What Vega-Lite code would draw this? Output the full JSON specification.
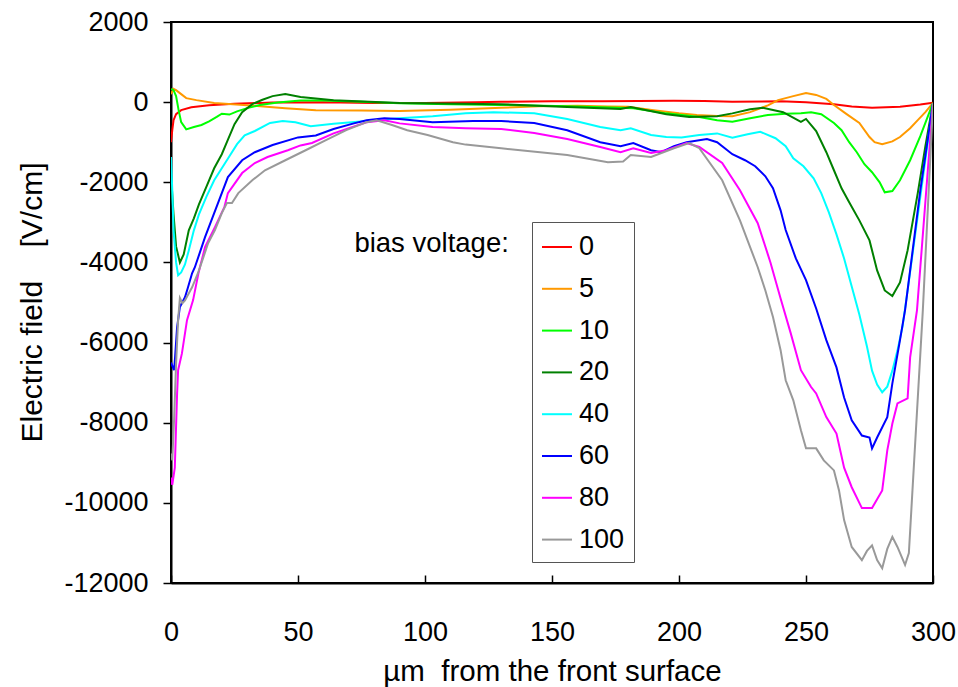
{
  "$schema": "https://vega.github.io/schema/vega-lite/v6.json",
  "width": 762,
  "height": 561,
  "autosize": {"type": "none"},
  "padding": {"left": 171, "top": 22, "right": 25, "bottom": 104},
  "background": "white",
  "config": {
    "font": "Liberation Sans",
    "view": {"stroke": "black", "strokeWidth": 2},
    "axis": {"grid": false, "domainColor": "black", "domainWidth": 2, "tickColor": "black", "tickWidth": 1.5, "labelColor": "black", "titleColor": "black", "labelFont": "Liberation Sans", "titleFont": "Liberation Sans", "titleFontWeight": "normal"}
  },
  "encoding": {
    "x": {"field": "x", "type": "quantitative", "scale": {"domain": [0, 300], "nice": false, "zero": false},
      "axis": {"values": [0, 50, 100, 150, 200, 250, 300], "tickSize": -8, "labelPadding": 44, "labelFontSize": 27, "labelFlush": false,
        "title": "µm\u00a0 from the front surface", "titleFontSize": 29.5, "titleX": 381, "titleY": 97, "titleBaseline": "alphabetic", "titleAlign": "center"}},
    "y": {"field": "E", "type": "quantitative", "scale": {"domain": [-12000, 2000], "nice": false, "zero": false},
      "axis": {"values": [-12000, -10000, -8000, -6000, -4000, -2000, 0, 2000], "tickSize": 8, "labelPadding": 15, "labelFontSize": 27, "labelFlush": false, "labelExpr": "'' + datum.value",
        "title": "Electric field\u00a0\u00a0\u00a0\u00a0[V/cm]", "titleFontSize": 30, "titleX": -139, "titleY": 280, "titleAngle": 270, "titleAlign": "center", "titleBaseline": "middle"}}
  },
  "layer": [
    {
      "data": {"values": [
        {"V":"0","x":0,"E":-1000},{"V":"0","x":0.5,"E":-700},{"V":"0","x":1,"E":-450},{"V":"0","x":2,"E":-300},{"V":"0","x":4,"E":-200},{"V":"0","x":8,"E":-130},{"V":"0","x":15,"E":-80},{"V":"0","x":25,"E":-40},{"V":"0","x":40,"E":-10},{"V":"0","x":60,"E":0},{"V":"0","x":80,"E":-20},{"V":"0","x":100,"E":-20},{"V":"0","x":120,"E":-5},{"V":"0","x":130,"E":10},{"V":"0","x":150,"E":20},{"V":"0","x":170,"E":25},{"V":"0","x":198,"E":35},{"V":"0","x":210,"E":30},{"V":"0","x":221,"E":10},{"V":"0","x":240,"E":20},{"V":"0","x":250,"E":0},{"V":"0","x":261,"E":-50},{"V":"0","x":268,"E":-110},{"V":"0","x":276,"E":-140},{"V":"0","x":287,"E":-115},{"V":"0","x":295,"E":-60},{"V":"0","x":300,"E":-15},

        {"V":"5","x":0,"E":200},{"V":"5","x":1,"E":330},{"V":"5","x":2,"E":300},{"V":"5","x":4,"E":200},{"V":"5","x":6,"E":100},{"V":"5","x":10,"E":50},{"V":"5","x":17,"E":-20},{"V":"5","x":30,"E":-80},{"V":"5","x":45,"E":-150},{"V":"5","x":57,"E":-200},{"V":"5","x":75,"E":-210},{"V":"5","x":90,"E":-220},{"V":"5","x":110,"E":-190},{"V":"5","x":130,"E":-140},{"V":"5","x":145,"E":-100},{"V":"5","x":160,"E":-90},{"V":"5","x":172,"E":-110},{"V":"5","x":180,"E":-115},{"V":"5","x":190,"E":-200},{"V":"5","x":200,"E":-280},{"V":"5","x":207,"E":-320},{"V":"5","x":215,"E":-345},{"V":"5","x":221,"E":-350},{"V":"5","x":228,"E":-250},{"V":"5","x":235,"E":-80},{"V":"5","x":239,"E":50},{"V":"5","x":245,"E":150},{"V":"5","x":250,"E":230},{"V":"5","x":254,"E":180},{"V":"5","x":258,"E":80},{"V":"5","x":261,"E":-70},{"V":"5","x":266,"E":-300},{"V":"5","x":271,"E":-520},{"V":"5","x":275,"E":-870},{"V":"5","x":277,"E":-1000},{"V":"5","x":280,"E":-1050},{"V":"5","x":284,"E":-980},{"V":"5","x":287,"E":-870},{"V":"5","x":291,"E":-650},{"V":"5","x":294,"E":-450},{"V":"5","x":297,"E":-250},{"V":"5","x":300,"E":-20},

        {"V":"10","x":0,"E":330},{"V":"10","x":1,"E":300},{"V":"10","x":2,"E":150},{"V":"10","x":3,"E":-200},{"V":"10","x":4,"E":-500},{"V":"10","x":6,"E":-680},{"V":"10","x":9,"E":-620},{"V":"10","x":12,"E":-570},{"V":"10","x":15,"E":-480},{"V":"10","x":18,"E":-370},{"V":"10","x":20,"E":-290},{"V":"10","x":23,"E":-310},{"V":"10","x":26,"E":-230},{"V":"10","x":30,"E":-150},{"V":"10","x":35,"E":-70},{"V":"10","x":42,"E":-10},{"V":"10","x":51,"E":40},{"V":"10","x":60,"E":40},{"V":"10","x":75,"E":10},{"V":"10","x":90,"E":-25},{"V":"10","x":110,"E":-50},{"V":"10","x":130,"E":-70},{"V":"10","x":156,"E":-100},{"V":"10","x":170,"E":-130},{"V":"10","x":182,"E":-150},{"V":"10","x":195,"E":-280},{"V":"10","x":208,"E":-370},{"V":"10","x":215,"E":-450},{"V":"10","x":221,"E":-490},{"V":"10","x":228,"E":-400},{"V":"10","x":235,"E":-320},{"V":"10","x":242,"E":-290},{"V":"10","x":248,"E":-280},{"V":"10","x":252,"E":-250},{"V":"10","x":256,"E":-300},{"V":"10","x":261,"E":-520},{"V":"10","x":264,"E":-700},{"V":"10","x":267,"E":-1000},{"V":"10","x":270,"E":-1250},{"V":"10","x":273,"E":-1550},{"V":"10","x":276,"E":-1750},{"V":"10","x":279,"E":-2000},{"V":"10","x":281,"E":-2250},{"V":"10","x":284,"E":-2220},{"V":"10","x":287,"E":-1950},{"V":"10","x":291,"E":-1450},{"V":"10","x":295,"E":-850},{"V":"10","x":300,"E":-20},

        {"V":"20","x":0,"E":-1800},{"V":"20","x":1,"E":-2800},{"V":"20","x":2,"E":-3600},{"V":"20","x":3.5,"E":-4000},{"V":"20","x":5,"E":-3800},{"V":"20","x":7,"E":-3200},{"V":"20","x":9,"E":-2900},{"V":"20","x":11,"E":-2550},{"V":"20","x":14,"E":-2100},{"V":"20","x":17,"E":-1650},{"V":"20","x":20,"E":-1300},{"V":"20","x":22,"E":-1000},{"V":"20","x":25,"E":-550},{"V":"20","x":28,"E":-250},{"V":"20","x":32,"E":-50},{"V":"20","x":36,"E":60},{"V":"20","x":40,"E":150},{"V":"20","x":45,"E":200},{"V":"20","x":51,"E":130},{"V":"20","x":64,"E":50},{"V":"20","x":90,"E":-20},{"V":"20","x":130,"E":-50},{"V":"20","x":156,"E":-120},{"V":"20","x":177,"E":-170},{"V":"20","x":181,"E":-120},{"V":"20","x":195,"E":-300},{"V":"20","x":204,"E":-370},{"V":"20","x":215,"E":-350},{"V":"20","x":221,"E":-280},{"V":"20","x":228,"E":-180},{"V":"20","x":233,"E":-140},{"V":"20","x":241,"E":-250},{"V":"20","x":248,"E":-490},{"V":"20","x":250,"E":-420},{"V":"20","x":254,"E":-720},{"V":"20","x":258,"E":-1250},{"V":"20","x":261,"E":-1700},{"V":"20","x":264,"E":-2150},{"V":"20","x":267,"E":-2500},{"V":"20","x":271,"E":-2950},{"V":"20","x":275,"E":-3450},{"V":"20","x":278,"E":-4200},{"V":"20","x":281,"E":-4700},{"V":"20","x":284,"E":-4840},{"V":"20","x":287,"E":-4500},{"V":"20","x":290,"E":-3700},{"V":"20","x":294,"E":-2270},{"V":"20","x":297,"E":-1100},{"V":"20","x":300,"E":-20},

        {"V":"40","x":0,"E":-1370},{"V":"40","x":0.5,"E":-2200},{"V":"40","x":1,"E":-3200},{"V":"40","x":2,"E":-4000},{"V":"40","x":2.8,"E":-4320},{"V":"40","x":4,"E":-4250},{"V":"40","x":5.5,"E":-4050},{"V":"40","x":7,"E":-3700},{"V":"40","x":9,"E":-3200},{"V":"40","x":11,"E":-2800},{"V":"40","x":14,"E":-2350},{"V":"40","x":17,"E":-1950},{"V":"40","x":20,"E":-1650},{"V":"40","x":23,"E":-1350},{"V":"40","x":26,"E":-1050},{"V":"40","x":29,"E":-830},{"V":"40","x":33,"E":-720},{"V":"40","x":39,"E":-520},{"V":"40","x":44,"E":-470},{"V":"40","x":49,"E":-500},{"V":"40","x":55,"E":-600},{"V":"40","x":64,"E":-540},{"V":"40","x":77,"E":-470},{"V":"40","x":90,"E":-400},{"V":"40","x":103,"E":-350},{"V":"40","x":116,"E":-280},{"V":"40","x":127,"E":-250},{"V":"40","x":143,"E":-280},{"V":"40","x":156,"E":-420},{"V":"40","x":169,"E":-620},{"V":"40","x":177,"E":-700},{"V":"40","x":181,"E":-650},{"V":"40","x":189,"E":-820},{"V":"40","x":195,"E":-870},{"V":"40","x":201,"E":-880},{"V":"40","x":208,"E":-820},{"V":"40","x":215,"E":-780},{"V":"40","x":221,"E":-890},{"V":"40","x":227,"E":-800},{"V":"40","x":232,"E":-740},{"V":"40","x":238,"E":-900},{"V":"40","x":242,"E":-1100},{"V":"40","x":245,"E":-1400},{"V":"40","x":249,"E":-1600},{"V":"40","x":253,"E":-1900},{"V":"40","x":256,"E":-2270},{"V":"40","x":259,"E":-2750},{"V":"40","x":262,"E":-3300},{"V":"40","x":265,"E":-3900},{"V":"40","x":268,"E":-4600},{"V":"40","x":271,"E":-5300},{"V":"40","x":274,"E":-6100},{"V":"40","x":276,"E":-6700},{"V":"40","x":278,"E":-7050},{"V":"40","x":280,"E":-7240},{"V":"40","x":282,"E":-7100},{"V":"40","x":284,"E":-6700},{"V":"40","x":286,"E":-6200},{"V":"40","x":288,"E":-5600},{"V":"40","x":290,"E":-4700},{"V":"40","x":293,"E":-3300},{"V":"40","x":296,"E":-1900},{"V":"40","x":300,"E":-30},

        {"V":"60","x":0,"E":-6500},{"V":"60","x":1.2,"E":-6690},{"V":"60","x":1.6,"E":-6370},{"V":"60","x":2.4,"E":-5620},{"V":"60","x":3.5,"E":-5110},{"V":"60","x":5.5,"E":-4870},{"V":"60","x":6.7,"E":-4620},{"V":"60","x":8.3,"E":-4270},{"V":"60","x":9.4,"E":-4120},{"V":"60","x":13.4,"E":-3370},{"V":"60","x":18.5,"E":-2520},{"V":"60","x":22.4,"E":-1870},{"V":"60","x":28,"E":-1450},{"V":"60","x":33,"E":-1250},{"V":"60","x":40,"E":-1070},{"V":"60","x":50,"E":-880},{"V":"60","x":57,"E":-830},{"V":"60","x":64,"E":-670},{"V":"60","x":72,"E":-530},{"V":"60","x":77,"E":-450},{"V":"60","x":84,"E":-400},{"V":"60","x":90,"E":-420},{"V":"60","x":103,"E":-500},{"V":"60","x":119,"E":-470},{"V":"60","x":130,"E":-470},{"V":"60","x":143,"E":-520},{"V":"60","x":156,"E":-700},{"V":"60","x":169,"E":-1000},{"V":"60","x":177,"E":-1100},{"V":"60","x":182,"E":-1020},{"V":"60","x":189,"E":-1200},{"V":"60","x":193,"E":-1250},{"V":"60","x":198,"E":-1100},{"V":"60","x":203,"E":-1000},{"V":"60","x":211,"E":-920},{"V":"60","x":215,"E":-1000},{"V":"60","x":221,"E":-1300},{"V":"60","x":226,"E":-1450},{"V":"60","x":230,"E":-1600},{"V":"60","x":234,"E":-1850},{"V":"60","x":237,"E":-2150},{"V":"60","x":240,"E":-2700},{"V":"60","x":242,"E":-3190},{"V":"60","x":246,"E":-3900},{"V":"60","x":250,"E":-4440},{"V":"60","x":254,"E":-5150},{"V":"60","x":258,"E":-5940},{"V":"60","x":262,"E":-6620},{"V":"60","x":265,"E":-7370},{"V":"60","x":268,"E":-7940},{"V":"60","x":272,"E":-8320},{"V":"60","x":275,"E":-8370},{"V":"60","x":276,"E":-8640},{"V":"60","x":278,"E":-8370},{"V":"60","x":282,"E":-7860},{"V":"60","x":284,"E":-7020},{"V":"60","x":287,"E":-5940},{"V":"60","x":289,"E":-5190},{"V":"60","x":295,"E":-2200},{"V":"60","x":300,"E":-30},

        {"V":"80","x":0,"E":-9370},{"V":"80","x":0.5,"E":-9550},{"V":"80","x":1.5,"E":-9120},{"V":"80","x":2.4,"E":-7270},{"V":"80","x":2.8,"E":-6690},{"V":"80","x":4.3,"E":-6270},{"V":"80","x":6.3,"E":-5440},{"V":"80","x":8.7,"E":-4940},{"V":"80","x":10.8,"E":-4270},{"V":"80","x":13.4,"E":-3620},{"V":"80","x":17.3,"E":-3120},{"V":"80","x":21,"E":-2620},{"V":"80","x":22.4,"E":-2270},{"V":"80","x":28,"E":-1770},{"V":"80","x":33,"E":-1520},{"V":"80","x":38,"E":-1370},{"V":"80","x":46,"E":-1200},{"V":"80","x":51,"E":-1080},{"V":"80","x":55.5,"E":-1020},{"V":"80","x":64,"E":-780},{"V":"80","x":77,"E":-500},{"V":"80","x":84,"E":-450},{"V":"80","x":90,"E":-530},{"V":"80","x":103,"E":-620},{"V":"80","x":116,"E":-650},{"V":"80","x":130,"E":-670},{"V":"80","x":143,"E":-770},{"V":"80","x":156,"E":-920},{"V":"80","x":169,"E":-1120},{"V":"80","x":177,"E":-1250},{"V":"80","x":182,"E":-1150},{"V":"80","x":189,"E":-1270},{"V":"80","x":195,"E":-1200},{"V":"80","x":203,"E":-1020},{"V":"80","x":208,"E":-1120},{"V":"80","x":217,"E":-1520},{"V":"80","x":224,"E":-2200},{"V":"80","x":231,"E":-3020},{"V":"80","x":236,"E":-4000},{"V":"80","x":240,"E":-4900},{"V":"80","x":244,"E":-5770},{"V":"80","x":248,"E":-6690},{"V":"80","x":252,"E":-7110},{"V":"80","x":254,"E":-7270},{"V":"80","x":258,"E":-7860},{"V":"80","x":262,"E":-8270},{"V":"80","x":265,"E":-9120},{"V":"80","x":268,"E":-9610},{"V":"80","x":272,"E":-10130},{"V":"80","x":276,"E":-10130},{"V":"80","x":280,"E":-9690},{"V":"80","x":282,"E":-8690},{"V":"80","x":284,"E":-8020},{"V":"80","x":286,"E":-7520},{"V":"80","x":290,"E":-7390},{"V":"80","x":291,"E":-6370},{"V":"80","x":293.7,"E":-5190},{"V":"80","x":300,"E":-30},

        {"V":"100","x":0,"E":-8770},{"V":"100","x":0.5,"E":-8940},{"V":"100","x":1.2,"E":-7940},{"V":"100","x":2,"E":-6520},{"V":"100","x":2.8,"E":-5440},{"V":"100","x":3.5,"E":-4890},{"V":"100","x":4.5,"E":-5020},{"V":"100","x":5.5,"E":-4950},{"V":"100","x":8.3,"E":-4620},{"V":"100","x":10.6,"E":-4270},{"V":"100","x":12.6,"E":-3900},{"V":"100","x":14.6,"E":-3520},{"V":"100","x":17.3,"E":-3190},{"V":"100","x":20,"E":-2770},{"V":"100","x":22,"E":-2520},{"V":"100","x":24,"E":-2520},{"V":"100","x":26.5,"E":-2270},{"V":"100","x":32,"E":-1950},{"V":"100","x":37,"E":-1700},{"V":"100","x":45,"E":-1450},{"V":"100","x":53,"E":-1200},{"V":"100","x":61,"E":-950},{"V":"100","x":69,"E":-700},{"V":"100","x":77,"E":-500},{"V":"100","x":81,"E":-450},{"V":"100","x":87,"E":-570},{"V":"100","x":93,"E":-700},{"V":"100","x":101,"E":-820},{"V":"100","x":111,"E":-1000},{"V":"100","x":116,"E":-1060},{"V":"100","x":130,"E":-1150},{"V":"100","x":156,"E":-1320},{"V":"100","x":172,"E":-1500},{"V":"100","x":178,"E":-1480},{"V":"100","x":181,"E":-1320},{"V":"100","x":189,"E":-1370},{"V":"100","x":198,"E":-1150},{"V":"100","x":204,"E":-1020},{"V":"100","x":208,"E":-1150},{"V":"100","x":217,"E":-1950},{"V":"100","x":224,"E":-2950},{"V":"100","x":231,"E":-4120},{"V":"100","x":234,"E":-4700},{"V":"100","x":237,"E":-5360},{"V":"100","x":240,"E":-6190},{"V":"100","x":242,"E":-6940},{"V":"100","x":245,"E":-7440},{"V":"100","x":248,"E":-8190},{"V":"100","x":250,"E":-8640},{"V":"100","x":254,"E":-8640},{"V":"100","x":257,"E":-8940},{"V":"100","x":261,"E":-9190},{"V":"100","x":263,"E":-9690},{"V":"100","x":265,"E":-10430},{"V":"100","x":268,"E":-11100},{"V":"100","x":272,"E":-11430},{"V":"100","x":274,"E":-11200},{"V":"100","x":276,"E":-11060},{"V":"100","x":278,"E":-11430},{"V":"100","x":280,"E":-11630},{"V":"100","x":282,"E":-11150},{"V":"100","x":284,"E":-10850},{"V":"100","x":286,"E":-11100},{"V":"100","x":289,"E":-11550},{"V":"100","x":290.5,"E":-11250},{"V":"100","x":296,"E":-5190},{"V":"100","x":300,"E":-30}
      ]},
      "mark": {"type": "line", "strokeWidth": 2, "clip": true},
      "encoding": {
        "color": {"field": "V", "type": "nominal",
          "scale": {"domain": ["0", "5", "10", "20", "40", "60", "80", "100"], "range": ["#ff0000", "#ff9900", "#00ff00", "#008000", "#00ffff", "#0000ff", "#ff00ff", "#999999"]},
          "legend": {"orient": "none", "legendX": 361, "legendY": 200, "title": null, "symbolType": "stroke", "symbolSize": 900, "symbolStrokeWidth": 2, "labelFontSize": 27, "labelFont": "Liberation Sans", "labelColor": "black", "labelOffset": 6, "rowPadding": 12.8, "padding": 9, "strokeColor": "#555555", "fillColor": "white"}}
      }
    },
    {
      "data": {"values": [{"label": "bias voltage:", "x": 133, "E": -3740}]},
      "mark": {"type": "text", "align": "right", "baseline": "alphabetic", "fontSize": 27.5, "font": "Liberation Sans", "color": "black"},
      "encoding": {"text": {"field": "label"}}
    }
  ]
}
